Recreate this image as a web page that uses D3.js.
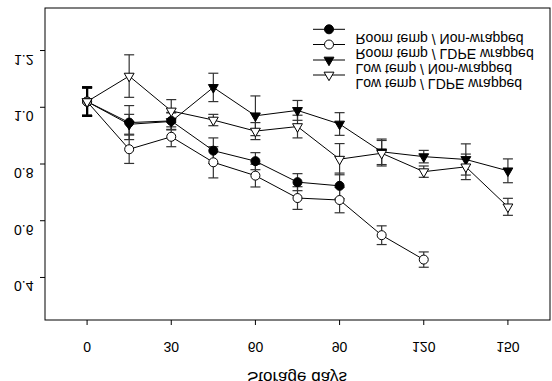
<!DOCTYPE html>
<html>
<head>
<meta charset="utf-8">
<script src="https://cdn.jsdelivr.net/npm/d3@7"></script>
<style>
  body { margin: 0; background: #fff; }
  text { font-family: "Liberation Sans", Arial, sans-serif; fill: #000; }
</style>
</head>
<body>
<div id="chart"></div>
<script>
const days = [0, 15, 30, 45, 60, 75, 90, 105, 120, 135, 150];
const xTicks = [0, 30, 60, 90, 120, 150];
const yTicks = [0.4, 0.6, 0.8, 1.0, 1.2];

const roomNon = [1.02, 0.946, 0.952, 0.847, 0.81, 0.736, 0.723];
const roomNonErr = [0.05, 0.06, 0.03, 0.045, 0.03, 0.03, 0.045];
const roomLdpe = [1.02, 0.852, 0.896, 0.806, 0.759, 0.68, 0.673, 0.549, 0.463];
const roomLdpeErr = [0.05, 0.05, 0.035, 0.055, 0.04, 0.04, 0.045, 0.033, 0.027];
const lowNon = [1.02, 0.94, 0.95, 1.07, 0.97, 0.989, 0.941, 0.843, 0.826, 0.816, 0.776];
const lowNonErr = [0.05, 0.035, 0.03, 0.05, 0.07, 0.035, 0.04, 0.045, 0.022, 0.055, 0.042];
const lowLdpe = [1.02, 1.11, 0.987, 0.955, 0.916, 0.932, 0.817, 0.838, 0.773, 0.79, 0.649];
const lowLdpeErr = [0.05, 0.075, 0.04, 0.02, 0.03, 0.04, 0.055, 0.045, 0.02, 0.045, 0.03];

const seriesNames = ["Room temp / Non-wrapped", "Room temp / LDPE wrapped",
  "Low temp / Non-wrapped", "Low temp / LDPE wrapped"];

const width = 552, height = 381;
const plotL = 45, plotR = 550, plotT = 8, plotB = 320;

const svg = d3.select("#chart").append("svg")
  .attr("width", width)
  .attr("height", height);

const x = d3.scaleLinear().domain([-15, 165]).range([plotL, plotR]);
const y = d3.scaleLinear().domain([0.25, 1.35]).range([plotB, plotT]);

// frame
svg.append("rect")
  .attr("x", plotL).attr("y", plotT)
  .attr("width", plotR - plotL).attr("height", plotB - plotT)
  .attr("fill", "none").attr("stroke", "#000").attr("stroke-width", 1);

// text is drawn upside down like the reference (baseline at py, glyphs hang below)
const flipped = (sel, px, py) => sel.attr("transform", `translate(${px},${py}) scale(1,-1)`);

xTicks.forEach(t => {
  svg.append("line")
    .attr("x1", x(t)).attr("x2", x(t))
    .attr("y1", plotB).attr("y2", plotB + 5)
    .attr("stroke", "#000");
  svg.append("text")
    .call(flipped, x(t), 341.7)
    .attr("text-anchor", "middle")
    .attr("font-size", 14)
    .text(t);
});

yTicks.forEach(t => {
  svg.append("line")
    .attr("x1", plotL - 5).attr("x2", plotL)
    .attr("y1", y(t)).attr("y2", y(t))
    .attr("stroke", "#000");
  svg.append("text")
    .call(flipped, 33.5, y(t) + 4)
    .attr("text-anchor", "end")
    .attr("font-size", 14)
    .text(d3.format(".1f")(t));
});

svg.append("text")
  .call(flipped, 297, 371.5)
  .attr("text-anchor", "middle")
  .attr("font-size", 17)
  .text("Storage days");

const series = [
  { vals: roomNon, err: roomNonErr, shape: "circle", fill: "#000" },
  { vals: roomLdpe, err: roomLdpeErr, shape: "circle", fill: "#fff" },
  { vals: lowNon, err: lowNonErr, shape: "tri", fill: "#000" },
  { vals: lowLdpe, err: lowLdpeErr, shape: "tri", fill: "#fff" }
];

const line = d3.line().x(d => x(d.day)).y(d => y(d.v));
const points = s => s.vals.map((v, i) => ({ day: days[i], v, e: s.err[i] }));

// error bars
series.forEach(s => {
  const g = svg.append("g");
  points(s).forEach(p => {
    const bold = p.day === 0;
    const col = bold ? "#000" : "#333";
    const sw = bold ? 2 : 1.2;
    const hw = 5;
    g.append("line").attr("x1", x(p.day)).attr("x2", x(p.day))
      .attr("y1", y(p.v + p.e)).attr("y2", y(p.v - p.e))
      .attr("stroke", col).attr("stroke-width", sw);
    [p.v + p.e, p.v - p.e].forEach(c => {
      g.append("line").attr("x1", x(p.day) - hw).attr("x2", x(p.day) + hw)
        .attr("y1", y(c)).attr("y2", y(c))
        .attr("stroke", col).attr("stroke-width", sw);
    });
  });
});

// lines
series.forEach(s => {
  svg.append("path")
    .datum(points(s))
    .attr("d", line)
    .attr("fill", "none")
    .attr("stroke", "#000")
    .attr("stroke-width", 1);
});

const triDown = d3.symbol().type(d3.symbolTriangle).size(42);

function marker(g, s, cx, cy) {
  if (s.shape === "circle") {
    g.append("circle").attr("cx", cx).attr("cy", cy).attr("r", 4.5)
      .attr("fill", s.fill).attr("stroke", "#000").attr("stroke-width", 1);
  } else {
    g.append("path").attr("d", triDown())
      .attr("transform", `translate(${cx},${cy}) rotate(180)`)
      .attr("fill", s.fill).attr("stroke", "#000").attr("stroke-width", 1);
  }
}

// markers
series.forEach(s => {
  const g = svg.append("g");
  points(s).forEach(p => marker(g, s, x(p.day), y(p.v)));
});

// legend
const legY = [29.3, 44.5, 60, 75];
series.forEach((s, i) => {
  const g = svg.append("g");
  g.append("line").attr("x1", 313).attr("x2", 345)
    .attr("y1", legY[i]).attr("y2", legY[i])
    .attr("stroke", "#000");
  marker(g, s, 329, legY[i]);
  g.append("text")
    .call(flipped, 355.5, legY[i] + 4.3)
    .attr("font-size", 14)
    .text(seriesNames[i]);
});
</script>
</body>
</html>
